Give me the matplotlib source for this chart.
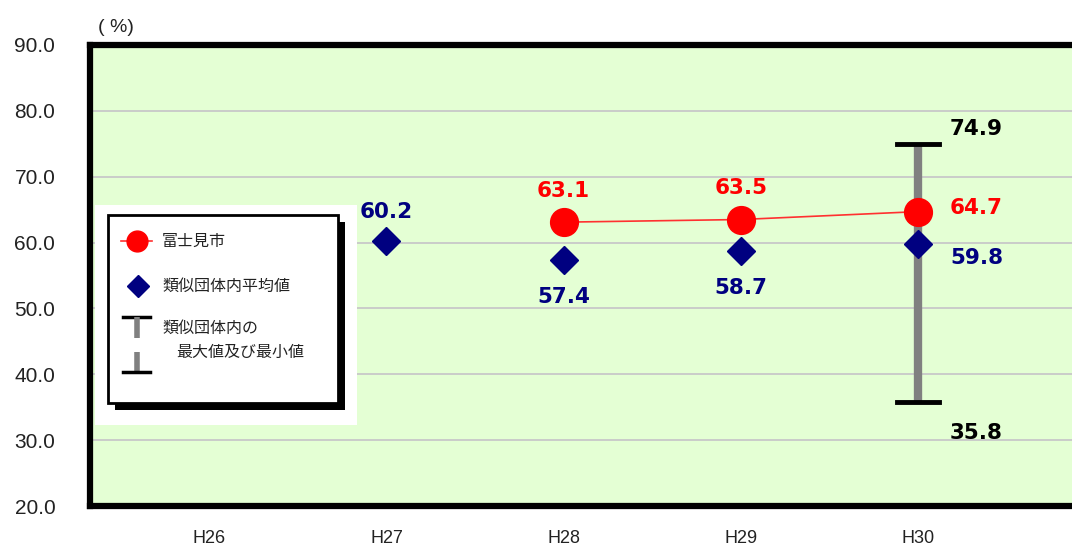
import matplotlib
matplotlib.use("Agg")
import matplotlib.pyplot as plt
from matplotlib.patches import Rectangle

plt.rcParams['font.family'] = ['Noto Sans CJK JP', 'DejaVu Sans']

years = ["H26", "H27", "H28", "H29", "H30"]
city = [None, None, 63.1, 63.5, 64.7]
avg = [None, 60.2, 57.4, 58.7, 59.8]
vmax = [None, None, None, None, 74.9]
vmin = [None, None, None, None, 35.8]
city_name = "富士見市"
avg_name = "類似団体内平均値"
range_name1 = "類似団体内の"
range_name2 = "最大値及び最小値"

W, H = 1072, 548
fig = plt.figure(figsize=(W / 100, H / 100), dpi=100)
fig.patch.set_facecolor('white')

L, T, B = 90, 45, 506
ax = fig.add_axes([L / W, (H - B) / H, 1.02 - L / W, (B - T) / H])
ax.set_facecolor('#E4FFD4')
ax.set_ylim(20, 90)
ax.set_xlim(-0.673, 4.99)
ax.set_yticks(range(20, 91, 10))
ax.set_yticklabels([f"{v:.1f}" for v in range(20, 91, 10)], fontsize=15, color='#222222',
                   family='Liberation Sans')
ax.set_xticks(range(len(years)))
ax.set_xticklabels(years, fontsize=13, color='#222222', family='Liberation Sans')
ax.tick_params(axis='y', length=0, pad=25)
ax.tick_params(axis='x', length=0, pad=17)
ax.grid(axis='y', color='#C8C8C8', linewidth=1.3)
ax.set_axisbelow(True)
for s in ['left', 'top', 'bottom']:
    ax.spines[s].set_linewidth(4.5)
    ax.spines[s].set_color('black')
ax.spines['right'].set_visible(False)

xs = list(range(len(years)))
lab_fs = 15.5

# range bars
for x, hi, lo in zip(xs, vmax, vmin):
    if hi is None:
        continue
    ax.plot([x, x], [lo, hi], color='#808080', linewidth=6, solid_capstyle='butt', zorder=2)
    ax.plot([x - 0.12, x + 0.12], [hi, hi], color='black', linewidth=3.5, zorder=3)
    ax.plot([x - 0.12, x + 0.12], [lo, lo], color='black', linewidth=3.5, zorder=3)
    ax.text(x + 0.18, hi + 2.3, f"{hi:.1f}", color='black', fontsize=lab_fs, fontweight='bold',
            ha='left', va='center', family='DejaVu Sans')
    ax.text(x + 0.18, lo - 4.7, f"{lo:.1f}", color='black', fontsize=lab_fs, fontweight='bold',
            ha='left', va='center', family='DejaVu Sans')

# city line
cx = [x for x, v in zip(xs, city) if v is not None]
cy = [v for v in city if v is not None]
ax.plot(cx, cy, color='#FF3030', linewidth=1.2, zorder=4)
ax.plot(cx, cy, linestyle='none', marker='o', markersize=20, color='#FF0000', zorder=5)

ax_ = [x for x, v in zip(xs, avg) if v is not None]
ay = [v for v in avg if v is not None]
ax.plot(ax_, ay, linestyle='none', marker='D', markersize=14, color='#000080', zorder=6)

# labels
for x, v in zip(cx, cy):
    if x == 4:
        ax.text(x + 0.18, v + 0.6, f"{v:.1f}", color='#FF0000', fontsize=lab_fs, fontweight='bold',
                ha='left', va='center', family='DejaVu Sans')
    else:
        ax.text(x, v + 4.8, f"{v:.1f}", color='#FF0000', fontsize=lab_fs, fontweight='bold',
                ha='center', va='center', family='DejaVu Sans')
for x, v in zip(ax_, ay):
    if x == 4:
        y, xx, ha = v - 2.1, x + 0.18, 'left'
    elif x == 1:
        y, xx, ha = v + 4.4, x, 'center'
    else:
        y, xx, ha = v - 5.6, x, 'center'
    ax.text(xx, y, f"{v:.1f}", color='#000080', fontsize=lab_fs, fontweight='bold',
            ha=ha, va='center', family='DejaVu Sans')

fig.text(98 / W, 1 - 27 / H, "( %)", fontsize=14, ha='left', va='center', color='#222222',
         family='Liberation Sans')

# legend box (pixel coordinates)
lx0, ly0, lx1, ly1 = 95, 205, 357, 425
lg = fig.add_axes([lx0 / W, 1 - ly1 / H, (lx1 - lx0) / W, (ly1 - ly0) / H])
lg.set_xlim(lx0, lx1)
lg.set_ylim(ly1, ly0)
lg.axis('off')
lg.add_patch(Rectangle((lx0, ly0), lx1 - lx0, ly1 - ly0, facecolor='white', edgecolor='none'))
lg.add_patch(Rectangle((115, 222), 230, 188, facecolor='black', edgecolor='none'))
lg.add_patch(Rectangle((108, 215), 230, 188, facecolor='white', edgecolor='black', linewidth=2))
lg.plot([121, 152], [241, 241], color='#FF3030', linewidth=1.2)
lg.plot([137], [241], marker='o', markersize=15, color='#FF0000', linestyle='none')
lg.text(162, 241, city_name, fontsize=11.5, va='center', ha='left', color='#222222')
lg.plot([138], [286], marker='D', markersize=11, color='#000080', linestyle='none')
lg.text(162, 286, avg_name, fontsize=11.5, va='center', ha='left', color='#222222')
lg.plot([123, 150], [317, 317], color='black', linewidth=2.5)
lg.plot([137, 137], [317, 338], color='#808080', linewidth=4, solid_capstyle='butt')
lg.plot([137, 137], [352, 372], color='#808080', linewidth=4, solid_capstyle='butt')
lg.plot([123, 150], [372, 372], color='black', linewidth=2.5)
lg.text(162, 328, range_name1, fontsize=11.5, va='center', ha='left', color='#222222')
lg.text(176, 352, range_name2, fontsize=11.5, va='center', ha='left', color='#222222')

fig.savefig('out.png', dpi=100)
